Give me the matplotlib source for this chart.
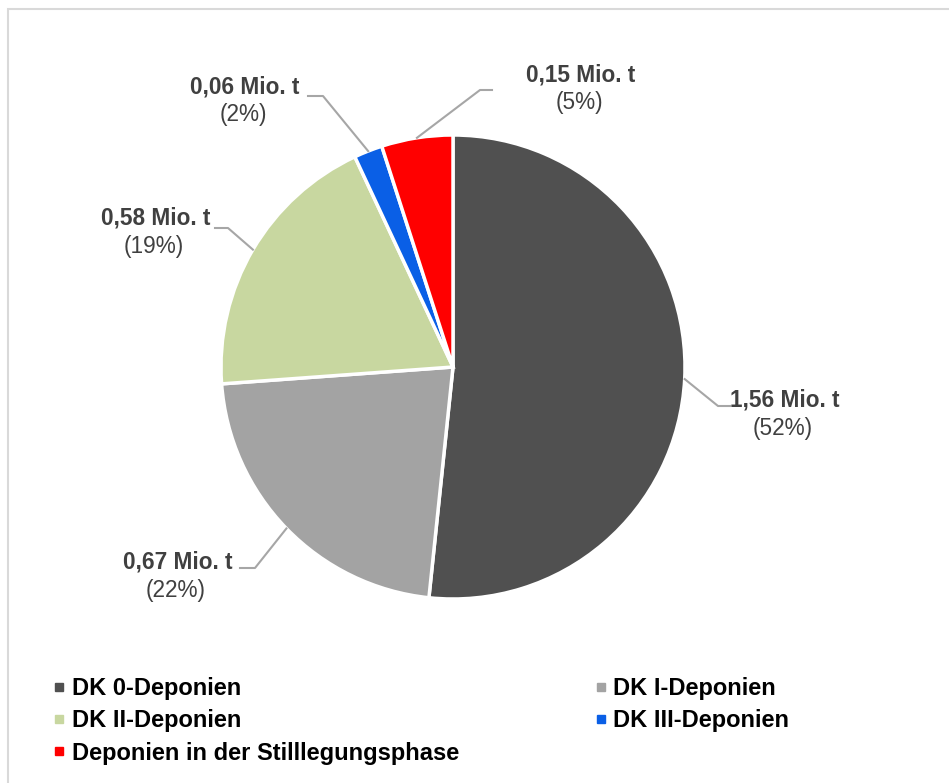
import matplotlib
matplotlib.use("Agg")
import matplotlib.pyplot as plt
import numpy as np
from matplotlib.lines import Line2D
from matplotlib.patches import Rectangle

plt.rcParams['font.family'] = ['Liberation Sans', 'DejaVu Sans']

# data
categories = ["DK 0-Deponien", "DK I-Deponien", "DK II-Deponien",
              "DK III-Deponien", "Deponien in der Stilllegungsphase"]
values = [1.56, 0.67, 0.58, 0.06, 0.15]
colors = ["#505050", "#a3a3a3", "#c8d7a0", "#0a5fe6", "#ff0000"]

# label layout in pixels (image coords, y down): text centre, leader elbow, leader end
label_pos = [(785, 400), (178, 562), (156, 218), (245, 87), (581, 75)]
elbow_pos = [(718, 406), (255, 568), (228, 228), (323, 96), (480, 90)]
end_pos = [(730, 406), (240, 568), (215, 228), (308, 96), (492, 90)]

W, H = 949, 783
fig = plt.figure(figsize=(W / 100, H / 100), dpi=100)
ax = fig.add_axes([0, 0, 1, 1])

cx, cy, r = 453, H - 367, 232
wedges, _ = ax.pie(values, colors=colors, startangle=90, counterclock=False,
                   center=(cx, cy), radius=r,
                   wedgeprops=dict(edgecolor="white", linewidth=2.5))
ax.set_xlim(0, W)
ax.set_ylim(0, H)
ax.set_aspect("equal")
ax.axis("off")

total = sum(values)
for w, v, (tx, ty), (ex, ey), (lx, ly) in zip(wedges, values, label_pos, elbow_pos, end_pos):
    ang = np.deg2rad((w.theta1 + w.theta2) / 2)
    px, py = cx + r * np.cos(ang), cy + r * np.sin(ang)
    ax.plot([px, ex, lx], [py, H - ey, H - ly], color="#a6a6a6", lw=1.5, zorder=1)
    ax.text(tx, H - ty, f"{v:.2f}".replace(".", ",") + " Mio. t", ha="center", va="center",
            fontsize=16.3, fontweight="bold", color="#404040")
    ax.text(tx - 2, H - ty - 28, f"({v / total * 100:.0f}%)", ha="center", va="center",
            fontsize=16.3, color="#404040")

# legend (row-major order)
handles = [Line2D([], [], marker="s", linestyle="none", markersize=6, color=c) for c in colors]
order = [0, 2, 4, 1, 3]
fig.legend([handles[i] for i in order], [categories[i] for i in order],
           loc="upper left", bbox_to_anchor=(42 / W, 1 - 665 / H), ncol=2,
           frameon=False, prop=dict(size=17, weight="bold"),
           handlelength=0.45, handletextpad=0.3, labelspacing=0.4,
           columnspacing=5.8, borderpad=0)

# outer border
ax.add_patch(Rectangle((8, -20), W + 20, H - 9 + 20, fill=False,
                       edgecolor="#d9d9d9", lw=1.5, clip_on=False))

fig.savefig("out.png", dpi=100)
